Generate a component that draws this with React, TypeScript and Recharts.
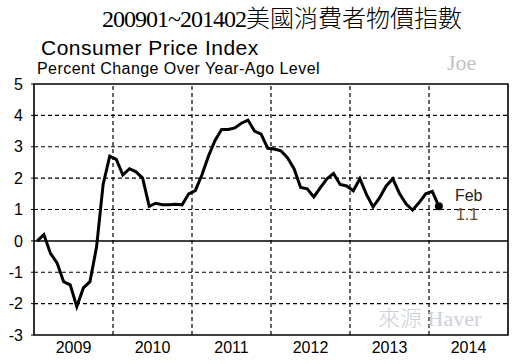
import React from 'react';
import { LineChart, Line, XAxis, YAxis, ReferenceLine, ReferenceArea } from 'recharts';

const years = ['2009', '2010', '2011', '2012', '2013', '2014'];
const cpi = [
  0.0, 0.2, -0.4, -0.7, -1.3, -1.4, -2.1, -1.5, -1.3, -0.2, 1.8, 2.7,
  2.6, 2.1, 2.3, 2.2, 2.0, 1.1, 1.2, 1.15, 1.15, 1.17, 1.15, 1.5,
  1.6, 2.1, 2.7, 3.2, 3.55, 3.55, 3.6, 3.75, 3.85, 3.5, 3.4, 2.95,
  2.93, 2.87, 2.65, 2.3, 1.7, 1.66, 1.4, 1.7, 1.98, 2.15, 1.8, 1.75,
  1.6, 1.98, 1.48, 1.08, 1.38, 1.75, 1.98, 1.52, 1.18, 0.98, 1.22, 1.5,
  1.58, 1.1,
];
const lastMonthLabel = 'Feb';
const yTicks = [-3, -2, -1, 0, 1, 2, 3, 4, 5];
const gridY = [-2, -1, 1, 2, 3, 4];
const gridX = [12, 24, 36, 48, 60];
const yearTicks = [6, 18, 30, 42, 54, 66];

const data = cpi.map((v, i) => ({ x: i + 0.5, v }));

const sans = '"Liberation Sans", Arial, sans-serif';
const serif = '"Liberation Serif", "Times New Roman", serif';
const cjk = '"Noto Sans CJK TC", "Noto Sans CJK SC", sans-serif';

const EndDot = (props: any) => {
  const { cx, cy, index } = props;
  if (index !== cpi.length - 1) return <g key={`d${index}`} />;
  return (
    <g key={`d${index}`}>
      <circle cx={cx} cy={cy} r={4} fill="#000" />
      <text x={cx + 16} y={cy - 5} fontFamily={sans} fontSize={16} fill="#222">{lastMonthLabel}</text>
      <text x={cx + 17} y={cy + 14} fontFamily={sans} fontSize={16} fill="#6b4520">{cpi[cpi.length - 1].toFixed(1)}</text>
    </g>
  );
};

export default function App() {
  return (
    <div style={{ position: 'absolute', left: 0, top: 0, width: 518, height: 364, background: '#fff' }}>
      <LineChart width={518} height={364} data={data} margin={{ top: 84, right: 10, bottom: 0, left: 0 }}>
        <XAxis
          type="number"
          dataKey="x"
          domain={[0, 72]}
          ticks={yearTicks}
          tickFormatter={(t: number) => years[Math.round((t - 6) / 12)]}
          axisLine={false}
          tickLine={false}
          tickSize={5}
          tick={{ fill: '#000', fontSize: 16, fontFamily: sans }}
          height={29}
          allowDataOverflow
        />
        <YAxis
          type="number"
          domain={[-3, 5]}
          ticks={yTicks}
          axisLine={false}
          tickLine={{ stroke: '#000', strokeWidth: 1 }}
          tickSize={3}
          tickMargin={8}
          tick={{ fill: '#000', fontSize: 16, fontFamily: sans }}
          width={34}
          interval={0}
        />
        {gridY.map((y) => (
          <ReferenceLine key={`gy${y}`} y={y} stroke="#000" strokeWidth={1.2} strokeDasharray="4 3" />
        ))}
        {gridX.map((x) => (
          <ReferenceLine key={`gx${x}`} x={x} stroke="#000" strokeWidth={1.2} strokeDasharray="4 3" />
        ))}
        <ReferenceLine y={0} stroke="#000" strokeWidth={1.5} />
        <ReferenceArea x1={0} x2={72} y1={-3} y2={5} fill="none" stroke="#000" strokeWidth={1.6} fillOpacity={0} />
        <Line
          type="linear"
          dataKey="v"
          stroke="#000"
          strokeWidth={3}
          dot={EndDot}
          activeDot={false}
          isAnimationActive={false}
        />
      </LineChart>
      <svg width={518} height={364} style={{ position: 'absolute', left: 0, top: 0, pointerEvents: 'none' }}>
        <text x={102} y={27} fontSize={24} fill="#000">
          <tspan fontFamily={serif} letterSpacing={-1}>200901~201402</tspan>
          <tspan fontFamily={cjk} fontWeight={300}>美國消費者物價指數</tspan>
        </text>
        <text x={41} y={55} fontFamily={sans} fontSize={21} letterSpacing={0.5} fill="#000">Consumer Price Index</text>
        <text x={37} y={74} fontFamily={sans} fontSize={16} letterSpacing={0.45} fill="#000">Percent Change Over Year-Ago Level</text>
        <text x={447} y={70} fontFamily={serif} fontSize={22} fill="#c2c2c2">Joe</text>
        <text x={378} y={326} fontSize={22} fill="#cdd1da">
          <tspan fontFamily={cjk} fontWeight={300}>來源</tspan>
          <tspan fontFamily={serif}> Haver</tspan>
        </text>
      </svg>
    </div>
  );
}
